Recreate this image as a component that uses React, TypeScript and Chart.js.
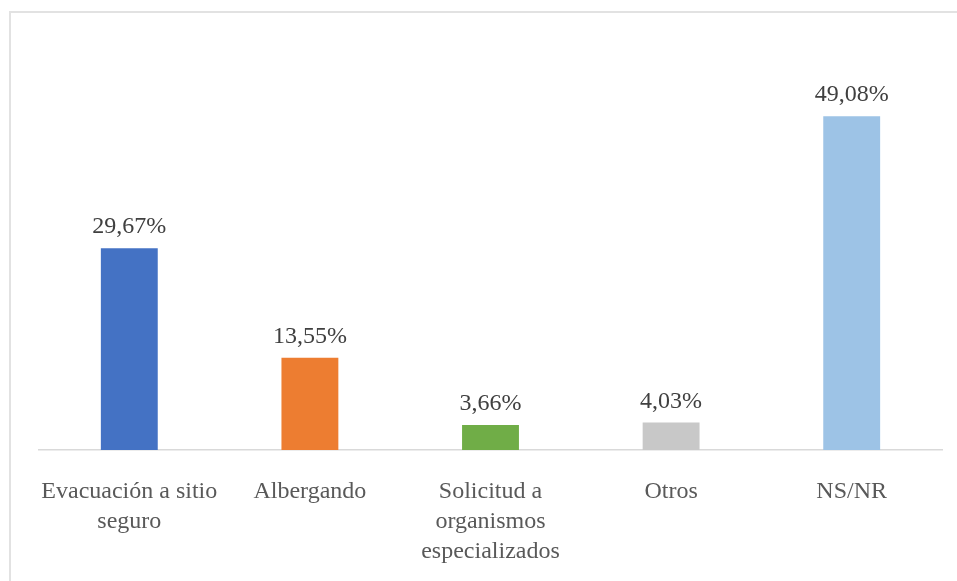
import React, { useEffect, useRef } from "react";
import { Chart, registerables } from "chart.js";

Chart.register(...registerables);

const categories: (string | string[])[] = [
  ["Evacuación a sitio", "seguro"],
  "Albergando",
  ["Solicitud a", "organismos", "especializados"],
  "Otros",
  "NS/NR",
];
const values = [29.67, 13.55, 3.66, 4.03, 49.08];
const barColors = ["#4472C4", "#ED7D31", "#70AD47", "#C8C8C8", "#9DC3E6"];
const valueLabels = values.map((v) => v.toFixed(2).replace(".", ",") + "%");

const FONT = "'Liberation Serif', 'Times New Roman', serif";

const dataLabelPlugin = {
  id: "dataLabels",
  afterDatasetsDraw(chart: any) {
    const ctx = chart.ctx;
    const meta = chart.getDatasetMeta(0);
    ctx.save();
    ctx.font = `24px ${FONT}`;
    ctx.fillStyle = "#404040";
    ctx.textAlign = "center";
    ctx.textBaseline = "alphabetic";
    meta.data.forEach((bar: any, i: number) => {
      ctx.fillText(valueLabels[i], bar.x, bar.y - 15);
    });
    ctx.restore();
  },
};

export default function App() {
  const canvasRef = useRef<HTMLCanvasElement | null>(null);

  useEffect(() => {
    if (!canvasRef.current) return;
    const chart = new Chart(canvasRef.current, {
      type: "bar",
      data: {
        labels: categories as any,
        datasets: [
          {
            data: values,
            backgroundColor: barColors,
            borderWidth: 0,
            barPercentage: 1,
            categoryPercentage: 0.315,
          },
        ],
      },
      options: {
        responsive: false,
        animation: false,
        devicePixelRatio: 1,
        layout: { padding: { left: 31, right: 7, top: 34, bottom: 0 } },
        plugins: {
          legend: { display: false },
          tooltip: { enabled: false },
        },
        scales: {
          y: {
            display: false,
            min: 0,
            max: 60,
          },
          x: {
            grid: { display: false, drawTicks: false },
            border: { display: true, color: "#D9D9D9", width: 1.5 },
            ticks: {
              color: "#595959",
              padding: 27,
              maxRotation: 0,
              autoSkip: false,
              font: { family: FONT, size: 24, lineHeight: 1.25 },
            },
            afterFit(axis: any) {
              axis.height = 123;
            },
          },
        },
      },
      plugins: [dataLabelPlugin],
    });
    return () => chart.destroy();
  }, []);

  return (
    <div style={{ position: "relative", width: 941, height: 565 }}>
      <div
        style={{
          position: "fixed",
          left: 9,
          top: 11,
          width: 2000,
          height: 2000,
          border: "2px solid #E2E2E2",
          pointerEvents: "none",
        }}
      />
      <canvas
        ref={canvasRef}
        width={941}
        height={565}
        style={{ position: "absolute", left: 0, top: 0, width: 941, height: 565 }}
      />
    </div>
  );
}
